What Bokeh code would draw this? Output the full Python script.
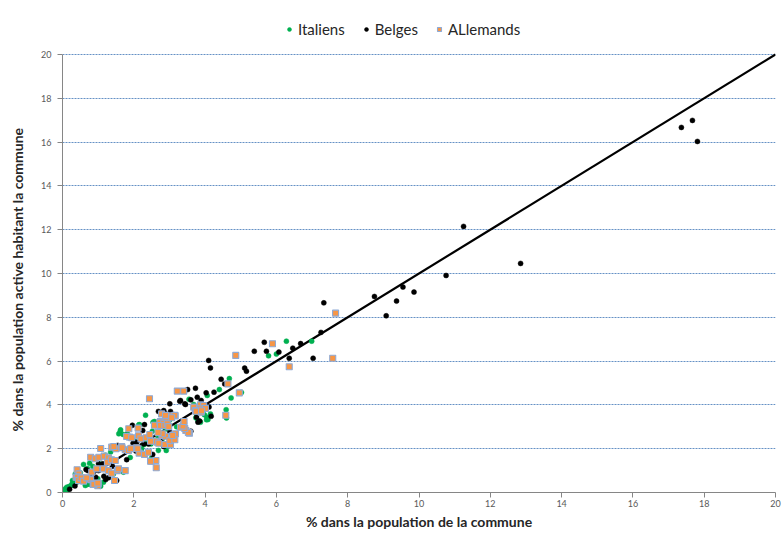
from bokeh.plotting import figure
from bokeh.models import Range1d, FixedTicker, Legend, LegendItem
from bokeh.embed import file_html
from bokeh.resources import INLINE

# ---------------- data ----------------
italiens = [
    (0.00, 0.09), (0.03, 0.06), (0.08, 0.12), (0.08, 0.17), (0.13, 0.06), (0.12, 0.24), (0.18, 0.27), (0.24, 0.32),
    (0.27, 0.40), (0.31, 0.40), (0.28, 0.55), (0.32, 0.40), (0.36, 0.85), (0.40, 0.78), (0.45, 0.50), (0.50, 0.90),
    (0.59, 0.63), (0.59, 1.28), (0.64, 0.32), (0.69, 0.37), (0.70, 1.10), (0.76, 1.34), (0.78, 0.37), (0.79, 0.40),
    (0.85, 1.19), (0.93, 0.37), (0.99, 0.63), (1.05, 1.30), (1.07, 0.29), (1.15, 0.47), (1.20, 1.70), (1.35, 1.85),
    (1.43, 0.85), (1.71, 0.93), (1.90, 1.60), (1.62, 2.80), (1.58, 2.68), (1.63, 2.86), (1.82, 2.68), (1.70, 2.65),
    (2.00, 2.40), (2.16, 3.10), (2.14, 3.09), (2.29, 2.19), (2.48, 2.22), (2.22, 2.00), (2.50, 1.58), (2.33, 3.53),
    (2.58, 3.24), (2.52, 2.80), (2.80, 2.45), (2.68, 2.48), (2.33, 2.33), (2.91, 1.92), (2.69, 1.92), (2.54, 3.21),
    (2.90, 2.90), (3.00, 3.30), (3.20, 3.00), (3.55, 4.26), (4.06, 4.43), (3.68, 4.02), (3.98, 3.55), (4.05, 3.44),
    (4.08, 3.33), (3.74, 3.41), (4.04, 3.32), (4.15, 3.59), (3.76, 3.56), (3.80, 3.29), (3.87, 3.21), (4.40, 4.70),
    (4.68, 5.20), (4.73, 4.32), (4.59, 3.78), (4.60, 3.40), (5.02, 4.57), (5.78, 6.24), (6.00, 6.32), (6.28, 6.91),
    (6.99, 6.91),
]

belges = [
    (0.20, 0.15), (0.35, 0.30), (0.66, 1.05), (0.71, 1.00), (0.85, 0.93), (0.93, 0.70), (1.01, 1.00), (1.01, 1.31),
    (1.13, 1.31), (1.16, 0.74), (1.21, 0.59), (1.29, 0.67), (1.40, 1.20), (1.52, 0.55), (1.55, 2.15), (1.63, 2.04),
    (1.71, 2.00), (1.79, 2.60), (1.80, 1.50), (1.96, 3.07), (1.98, 2.25), (2.02, 2.07), (2.06, 1.89), (2.08, 2.30),
    (2.25, 2.83), (2.28, 2.22), (2.30, 3.10), (2.41, 2.22), (2.52, 1.46), (2.53, 1.74), (2.57, 2.31), (2.62, 3.06),
    (2.69, 3.70), (2.75, 2.37), (2.84, 3.74), (2.84, 2.10), (2.87, 3.62), (2.88, 3.56), (3.00, 2.15), (3.01, 2.75),
    (3.01, 4.05), (3.03, 3.70), (3.03, 3.39), (3.06, 2.37), (3.13, 3.55), (3.29, 4.17), (3.31, 4.20), (3.42, 2.95),
    (3.43, 4.05), (3.45, 4.02), (3.51, 4.70), (3.60, 4.23), (3.60, 2.80), (3.73, 4.76), (3.76, 3.44), (3.78, 4.35),
    (3.80, 3.21), (3.85, 3.26), (3.89, 4.20), (4.00, 3.82), (4.03, 4.55), (4.10, 6.03), (4.11, 3.90), (4.15, 5.69),
    (4.17, 3.48), (4.25, 4.58), (4.45, 5.17), (4.55, 4.96), (5.11, 5.68), (5.16, 5.54), (5.38, 6.45), (5.66, 6.86),
    (5.72, 6.45), (6.07, 6.41), (6.36, 6.13), (6.46, 6.59), (6.68, 6.80), (7.03, 6.13), (7.25, 7.31), (7.33, 8.66),
    (8.75, 8.95), (9.08, 8.07), (9.37, 8.74), (9.55, 9.38), (9.86, 9.15), (10.76, 9.91), (11.25, 12.15),
    (12.85, 10.46), (17.36, 16.67), (17.67, 16.99), (17.81, 16.03),
]

allemands = [
    (0.41, 1.04), (0.46, 0.85), (0.38, 0.70), (0.55, 0.63), (0.65, 0.65), (0.79, 0.59), (0.86, 0.37), (1.00, 0.40),
    (0.42, 0.70), (0.45, 0.55), (0.52, 0.67), (0.59, 0.52), (0.68, 0.67), (0.87, 0.40), (0.99, 0.31), (0.79, 1.61),
    (0.92, 1.54), (1.02, 1.61), (1.07, 2.01), (0.82, 0.93), (0.96, 1.08), (1.15, 1.08), (1.29, 1.00), (1.38, 0.88),
    (1.54, 1.00), (1.57, 1.08), (1.76, 1.00), (1.46, 0.55), (1.17, 1.66), (1.29, 1.58), (1.26, 1.38), (1.37, 1.49),
    (1.48, 1.46), (1.38, 2.07), (1.50, 2.00), (1.66, 2.10), (1.76, 1.95), (1.85, 1.92), (1.94, 2.02), (1.44, 2.10),
    (1.67, 2.04), (1.91, 2.00), (2.08, 2.04), (2.15, 1.80), (2.30, 1.74), (2.41, 1.84), (2.50, 1.43), (2.62, 1.46),
    (2.63, 1.13), (2.47, 1.43), (1.88, 2.53), (2.13, 2.59), (2.20, 2.45), (2.35, 2.50), (2.45, 2.65), (2.66, 2.30),
    (2.58, 3.07), (1.86, 2.91), (2.12, 2.94), (1.80, 2.56), (1.94, 2.50), (2.11, 2.00), (2.44, 4.28), (2.60, 2.34),
    (2.87, 2.19), (3.03, 2.19), (2.47, 2.34), (2.70, 2.25), (2.79, 2.60), (2.89, 2.57), (3.01, 2.37), (3.12, 2.63),
    (3.15, 2.41), (3.17, 2.68), (3.09, 2.60), (2.80, 2.68), (2.68, 2.74), (3.31, 2.98), (3.40, 3.06), (3.46, 2.83),
    (3.56, 2.71), (3.53, 2.74), (3.43, 2.92), (3.38, 3.03), (3.41, 3.24), (2.75, 3.24), (2.89, 3.23), (3.05, 3.50),
    (3.16, 3.50), (2.73, 3.21), (2.84, 3.16), (2.75, 3.06), (2.87, 3.06), (2.94, 3.14), (2.98, 3.01), (3.15, 3.52),
    (3.06, 3.41), (2.78, 3.59), (2.89, 3.52), (3.22, 4.63), (3.40, 4.63), (3.68, 3.90), (3.87, 4.00), (3.96, 3.97),
    (3.85, 3.82), (3.73, 3.74), (3.89, 3.67), (4.01, 3.84), (3.75, 3.71), (3.90, 3.73), (4.58, 3.53), (4.64, 4.96),
    (4.96, 4.55), (4.86, 6.26), (5.89, 6.79), (6.36, 5.74), (7.58, 6.13), (7.66, 8.19), (0.88, 0.37), (0.99, 0.43),
]

diagonal = [0, 20]
axis_ticks = [0, 2, 4, 6, 8, 10, 12, 14, 16, 18, 20]
grid_ticks = [2, 4, 6, 8, 10, 12, 14, 16, 18, 20]

FONT = "Lato"

# Frame extends above the value 20 to leave room for the legend inside the plot area.
FRAME_H = 480
DATA_H = 438          # pixels between 0 and 20
Y_TOP = 20 * FRAME_H / DATA_H

p = figure(
    frame_width=713, frame_height=FRAME_H,
    min_border_left=62, min_border_right=9, min_border_top=12, min_border_bottom=45,
    x_range=Range1d(0, 20), y_range=Range1d(0, Y_TOP),
    output_backend="svg", toolbar_location=None,
)
p.outline_line_color = None
p.background_fill_color = "white"
p.border_fill_color = "white"

p.xgrid.visible = False
p.ygrid.ticker = FixedTicker(ticks=grid_ticks)
p.ygrid.grid_line_color = "#4a7ebb"
p.ygrid.grid_line_dash = "2 1"
p.ygrid.grid_line_width = 1
p.ygrid.grid_line_alpha = 0.85

for ax in (p.xaxis[0], p.yaxis[0]):
    ax.ticker = FixedTicker(ticks=axis_ticks)
    ax.bounds = (0, 20)
    ax.axis_line_color = "#868686"
    ax.major_tick_line_color = "#868686"
    ax.major_tick_out = 5
    ax.major_tick_in = 0
    ax.minor_tick_out = 0
    ax.minor_tick_in = 0
    ax.major_label_text_font = FONT
    ax.major_label_text_font_size = "9px"
    ax.major_label_text_color = "#595959"
    ax.axis_label_text_font = FONT
    ax.axis_label_text_font_size = "14px"
    ax.axis_label_text_font_style = "bold"
    ax.axis_label_text_color = "#262626"

NBSP = "\u00a0"
p.xaxis.axis_label = "% dans la population de la commune"
# trailing no-break spaces push the visible title down so it is centred on 0-20, not on the taller frame
p.yaxis.axis_label = "% dans la population active habitant la commune" + NBSP * 16
p.xaxis.major_label_standoff = 2
p.xaxis.axis_label_standoff = 3
p.yaxis.major_label_standoff = 6
p.yaxis.axis_label_standoff = 12

p.line(diagonal, diagonal, line_color="black", line_width=2.2)

r_it = p.scatter([a for a, b in italiens], [b for a, b in italiens], marker="circle", size=5,
                 fill_color="#00b050", line_color="#00b050", line_width=0.5)
r_be = p.scatter([a for a, b in belges], [b for a, b in belges], marker="circle", size=5,
                 fill_color="black", line_color="black", line_width=0.5)
r_al = p.scatter([a for a, b in allemands], [b for a, b in allemands], marker="square", size=6,
                 fill_color="#f79646", line_color="#8eaad6", line_width=1.1)

legend = Legend(
    items=[LegendItem(label="Italiens", renderers=[r_it]),
           LegendItem(label="Belges", renderers=[r_be]),
           LegendItem(label="ALlemands", renderers=[r_al])],
    orientation="horizontal", location=(222, 453),
    padding=0, margin=0, spacing=16, glyph_width=10, glyph_height=20, label_height=20,
    label_standoff=4, border_line_color=None, background_fill_alpha=0,
    label_text_font=FONT, label_text_font_size="15px", label_text_color="#262626",
)
p.add_layout(legend)

open("out.html", "w").write(file_html(p, INLINE))
